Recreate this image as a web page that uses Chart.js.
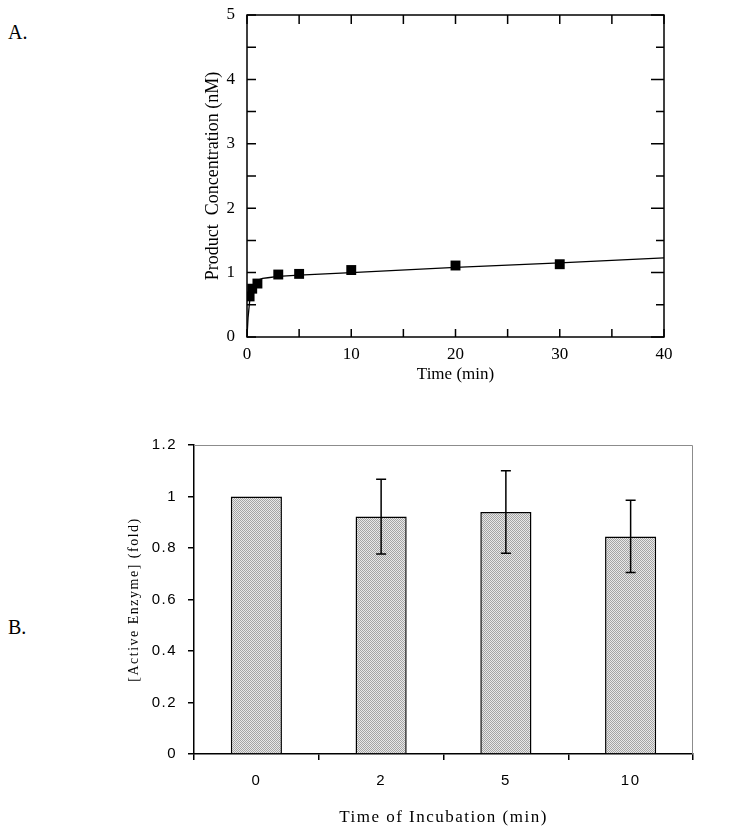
<!DOCTYPE html>
<html>
<head>
<meta charset="utf-8">
<script src="https://cdn.jsdelivr.net/npm/chart.js@4.4.1/dist/chart.umd.min.js"></script>
<style>
    body { margin: 0; background: #fff; width: 732px; height: 838px; position: relative; overflow: hidden; }
    .box { position: absolute; left: 0; width: 732px; }
    .panel { position: absolute; left: 8px; font: 20px "Liberation Serif", serif; color: #000; }
</style>
</head>
<body>
<div class="panel" style="top:21px">A.</div>
<div class="panel" style="top:616px">B.</div>
<div class="box" style="top:0; height:400px"><canvas id="chartA"></canvas></div>
<div class="box" style="top:400px; height:438px"><canvas id="chartB"></canvas></div>
<script>
// panel A: measured product vs time
const timeMin = [0.25, 0.5, 1, 3, 5, 10, 20, 30];
const productNM = [0.63, 0.75, 0.83, 0.97, 0.98, 1.04, 1.11, 1.13];
// fitted burst curve
const fitTime = [0, 0.1, 0.25, 0.5, 0.75, 1, 1.5, 2, 3, 5, 10, 20, 30, 40];
const fitConc = [0, 0.3, 0.55, 0.75, 0.84, 0.88, 0.91, 0.92, 0.94, 0.96, 1.0, 1.08, 1.15, 1.23];

// panel B: active enzyme after incubation
const incubation = ['0', '2', '5', '10'];
const activity = [1.0, 0.922, 0.94, 0.845];
const activityErr = [0, 0.145, 0.16, 0.14];

Chart.defaults.font.family = '"Liberation Serif", serif';
Chart.defaults.color = '#000';
Chart.defaults.animation = false;

// frame + inward tick marks for panel A
const frameTicks = {
    id: 'frameTicks',
    afterDraw(chart) {
        const ctx = chart.ctx;
        const a = chart.chartArea;
        const x = chart.scales.x, y = chart.scales.y;
        ctx.save();
        ctx.strokeStyle = '#000';
        ctx.lineWidth = 1.5;
        ctx.strokeRect(a.left, a.top, a.right - a.left, a.bottom - a.top);
        ctx.beginPath();
        x.ticks.forEach(t => {
            const px = x.getPixelForValue(t.value);
            ctx.moveTo(px, a.bottom); ctx.lineTo(px, a.bottom - 8);
            ctx.moveTo(px, a.top); ctx.lineTo(px, a.top + 9);
        });
        y.ticks.forEach(t => {
            const py = y.getPixelForValue(t.value);
            const major = t.value % 1 === 0;
            ctx.moveTo(a.left, py); ctx.lineTo(a.left + 9, py);
            ctx.moveTo(a.right, py); ctx.lineTo(a.right - (major ? 13 : 8), py);
        });
        ctx.stroke();
        ctx.restore();
    }
};

new Chart(document.getElementById('chartA'), {
    type: 'scatter',
    data: {
        datasets: [{
            data: timeMin.map((t, i) => ({ x: t, y: productNM[i] })),
            pointStyle: 'rect',
            pointRadius: 7,
            pointBorderWidth: 0,
            backgroundColor: '#000'
        }, {
            data: fitTime.map((t, i) => ({ x: t, y: fitConc[i] })),
            showLine: true,
            borderColor: '#000',
            borderWidth: 1.3,
            pointRadius: 0,
            tension: 0
        }]
    },
    options: {
        responsive: true,
        maintainAspectRatio: false,
        layout: { padding: { left: 190, right: 68, top: 15, bottom: 0 } },
        plugins: { legend: { display: false }, tooltip: { enabled: false } },
        scales: {
            x: {
                type: 'linear', min: 0, max: 40,
                grid: { display: false },
                border: { display: false },
                ticks: {
                    stepSize: 5, padding: -1, font: { size: 17 },
                    autoSkip: false, maxRotation: 0,
                    callback: v => (v % 10 === 0 ? v : '')
                },
                title: { display: true, text: 'Time (min)', font: { size: 17 }, padding: { bottom: 15 } },
                afterFit: s => { s.height = 63; }
            },
            y: {
                min: 0, max: 5,
                grid: { display: false },
                border: { display: false },
                ticks: {
                    stepSize: 0.5, padding: 4, font: { size: 17 },
                    autoSkip: false,
                    callback: v => (v % 1 === 0 ? v : '')
                },
                title: { display: true, text: 'Product  Concentration (nM)', font: { size: 18 }, padding: { top: 12 } },
                afterFit: s => { s.width = 57; }
            }
        }
    },
    plugins: [frameTicks]
});

// dithered grey fill like the original bars
function ditherPattern() {
    const c = document.createElement('canvas');
    c.width = 2; c.height = 2;
    const g = c.getContext('2d');
    g.fillStyle = '#e8e8e8'; g.fillRect(0, 0, 2, 2);
    g.fillStyle = '#a4a4a4'; g.fillRect(0, 0, 1, 1); g.fillRect(1, 1, 1, 1);
    return g.createPattern(c, 'repeat');
}

const spacing = {
    id: 'spacing',
    beforeLayout(chart) { chart.ctx.letterSpacing = '1.5px'; },
    beforeDraw(chart) { chart.ctx.letterSpacing = '1.5px'; }
};

const errorBars = {
    id: 'errorBars',
    afterDatasetsDraw(chart) {
        const ctx = chart.ctx;
        const y = chart.scales.y;
        const meta = chart.getDatasetMeta(0);
        ctx.save();
        ctx.strokeStyle = '#000';
        ctx.lineWidth = 1.5;
        meta.data.forEach((bar, i) => {
            if (!activityErr[i]) return;
            const hi = y.getPixelForValue(activity[i] + activityErr[i]);
            const lo = y.getPixelForValue(activity[i] - activityErr[i]);
            ctx.beginPath();
            ctx.moveTo(bar.x, hi); ctx.lineTo(bar.x, lo);
            ctx.moveTo(bar.x - 5, hi); ctx.lineTo(bar.x + 5, hi);
            ctx.moveTo(bar.x - 5, lo); ctx.lineTo(bar.x + 5, lo);
            ctx.stroke();
        });
        ctx.restore();
    },
    afterDraw(chart) {
        const ctx = chart.ctx;
        const a = chart.chartArea;
        ctx.save();
        ctx.strokeStyle = '#8c8c8c';
        ctx.lineWidth = 1;
        ctx.beginPath();
        ctx.moveTo(a.left, a.top + 0.5);
        ctx.lineTo(a.right - 0.5, a.top + 0.5);
        ctx.lineTo(a.right - 0.5, a.bottom);
        ctx.stroke();
        ctx.restore();
    }
};

new Chart(document.getElementById('chartB'), {
    type: 'bar',
    data: {
        labels: incubation,
        datasets: [{
            data: activity,
            backgroundColor: ditherPattern(),
            borderColor: '#000',
            borderWidth: 1.5,
            categoryPercentage: 1,
            barPercentage: 0.41
        }]
    },
    options: {
        responsive: true,
        maintainAspectRatio: false,
        layout: { padding: { left: 100, right: 39, top: 45, bottom: 0 } },
        plugins: { legend: { display: false }, tooltip: { enabled: false } },
        scales: {
            x: {
                grid: { display: true, drawOnChartArea: false, drawTicks: true, tickLength: 6, color: '#000', lineWidth: 1.5, offset: true },
                border: { display: true, color: '#000', width: 1.5 },
                ticks: { padding: 12, font: { family: '"Liberation Sans", sans-serif', size: 15 }, maxRotation: 0 },
                title: { display: true, text: 'Time of Incubation (min)', font: { size: 17 }, padding: { bottom: 10 } },
                afterFit: s => { s.height = 84; }
            },
            y: {
                min: 0, max: 1.2,
                grid: { display: true, drawOnChartArea: false, drawTicks: true, tickLength: 6, color: '#000', lineWidth: 1.5 },
                border: { display: true, color: '#000', width: 1.5 },
                ticks: {
                    stepSize: 0.2, padding: 11,
                    font: { family: '"Liberation Sans", sans-serif', size: 15 },
                    callback: v => String(parseFloat(v.toFixed(1)))
                },
                title: { display: true, text: '[Active Enzyme] (fold)', font: { size: 14 }, padding: { top: 26 } },
                afterFit: s => { s.width = 94; }
            }
        }
    },
    plugins: [spacing, errorBars]
});
</script>
</body>
</html>
